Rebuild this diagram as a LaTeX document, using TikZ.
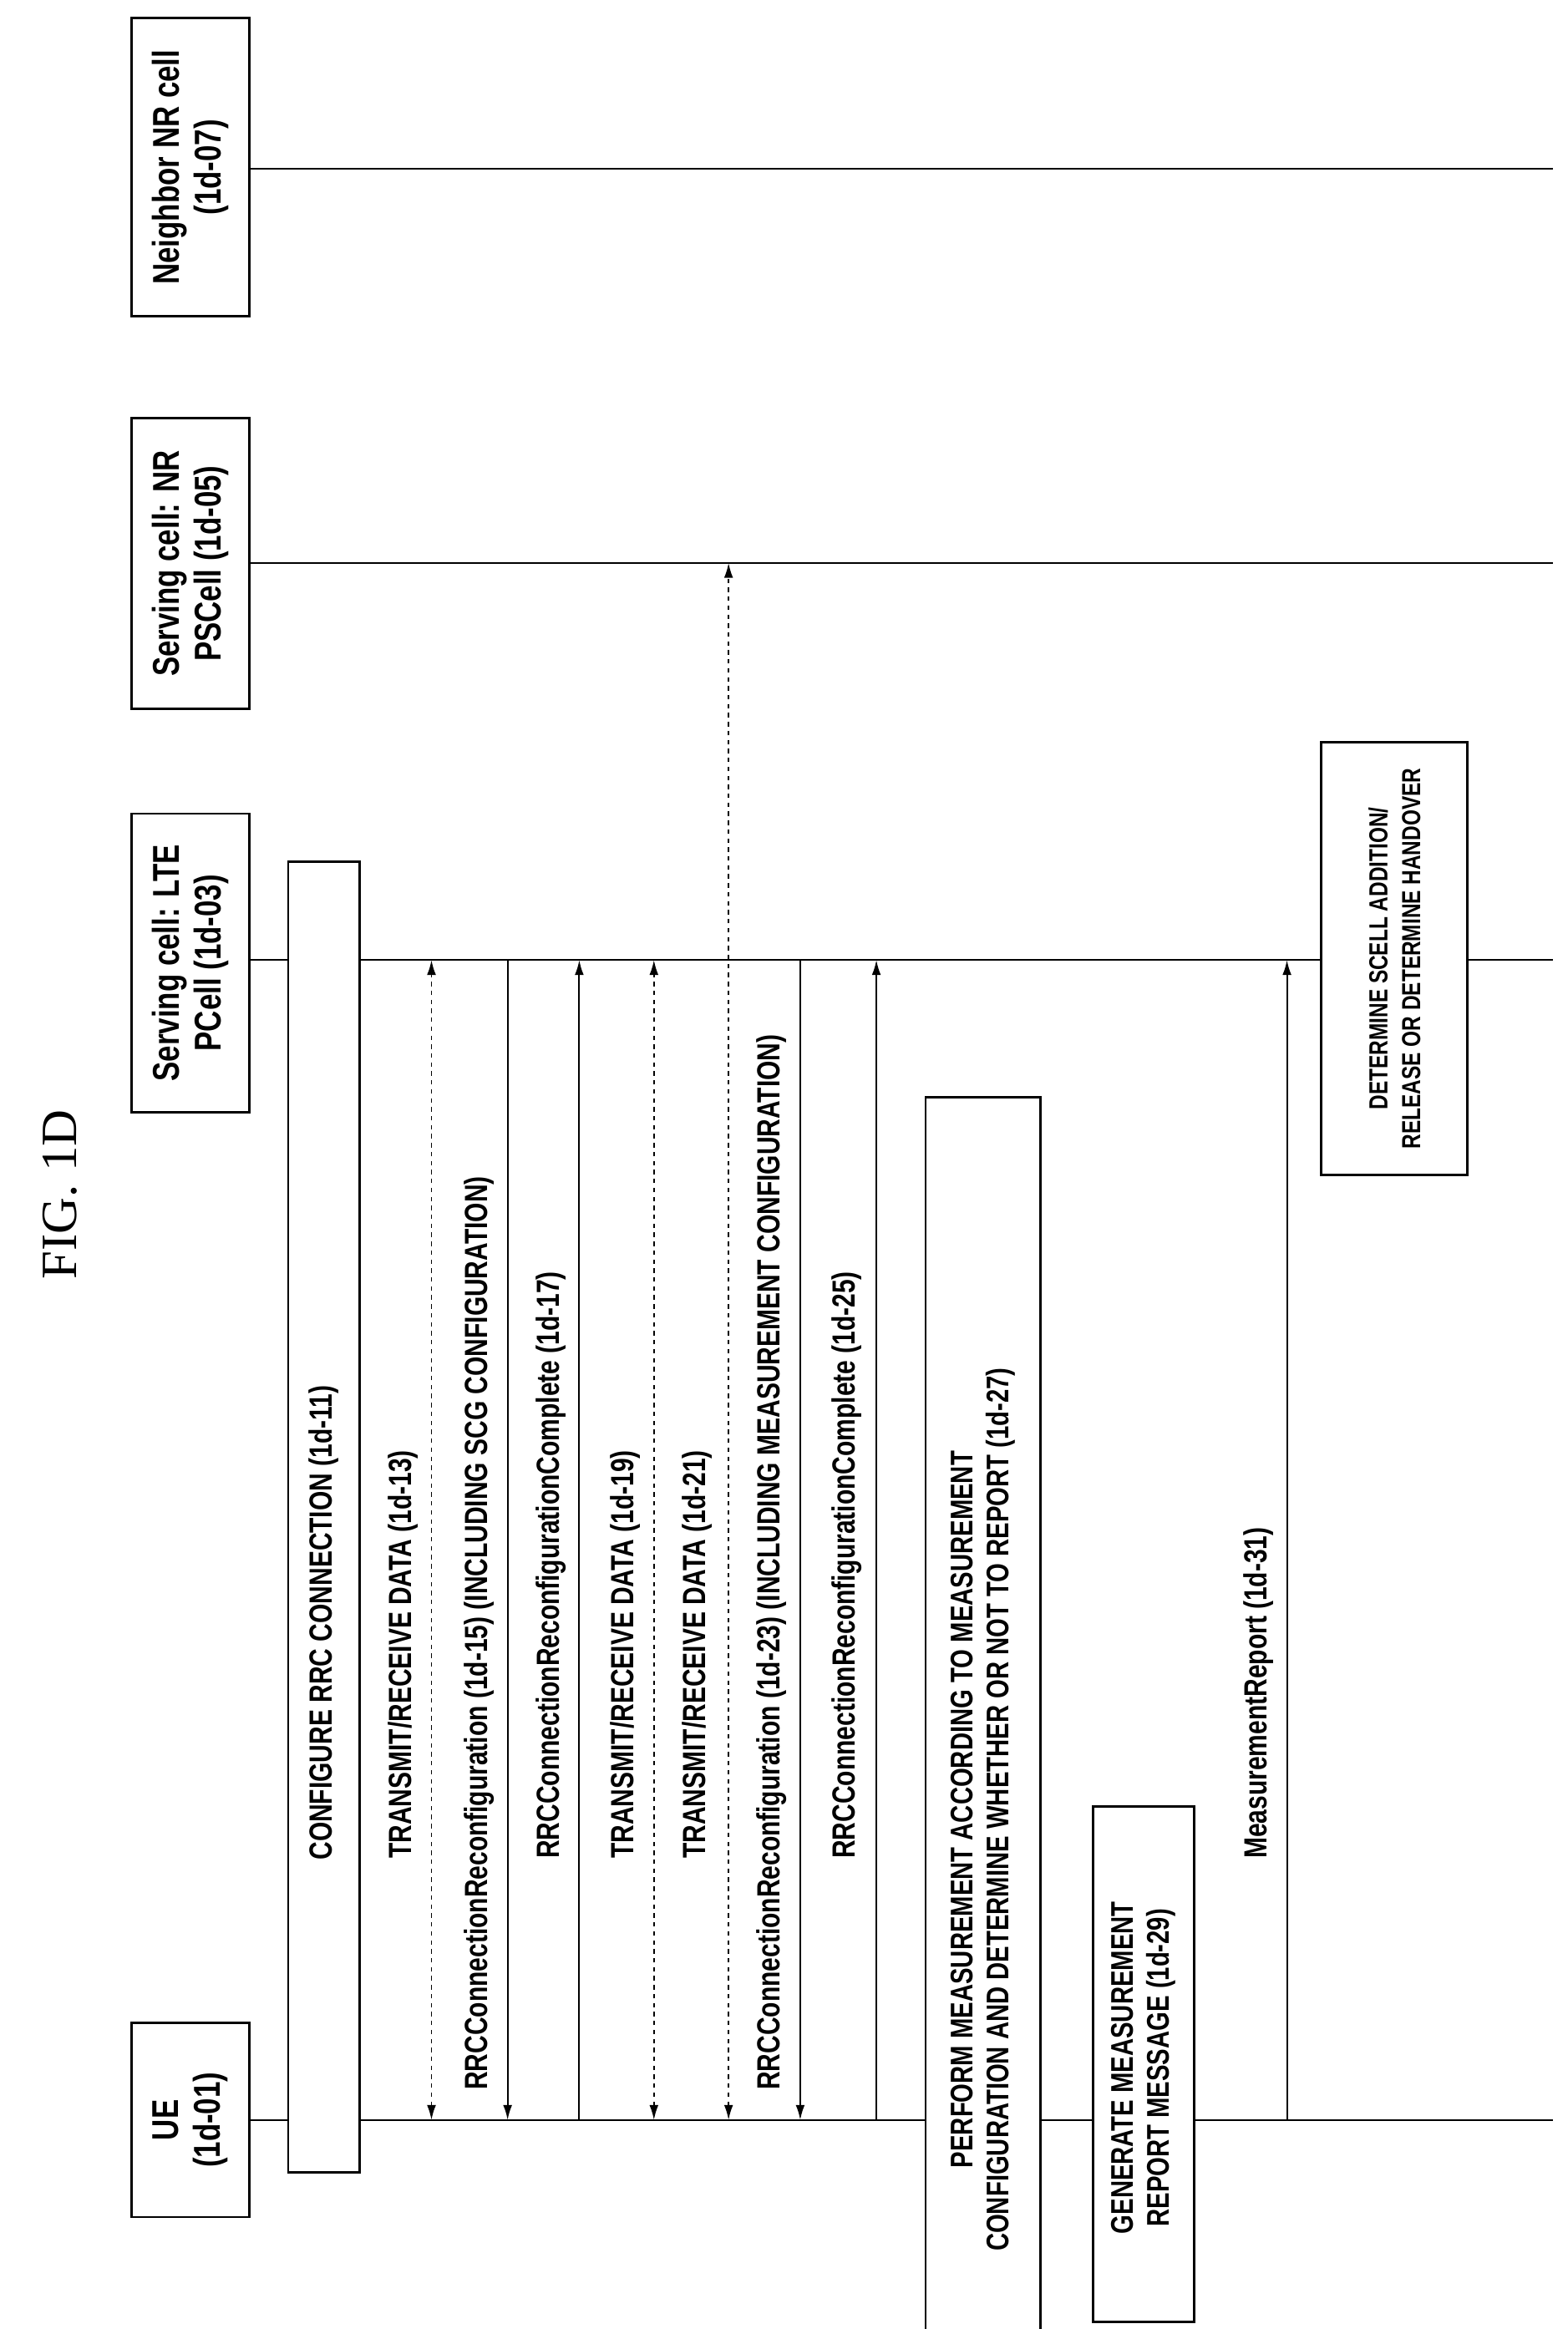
\documentclass[tikz,border=0pt]{standalone}
\usepackage{fontspec}
\setmainfont{Liberation Serif}
\newfontfamily\lab[FakeStretch=0.78]{Liberation Sans}
\begin{document}
\begin{tikzpicture}[x=1pt,y=-1pt,
  box/.style={draw,line width=1.6pt,fill=white},
  life/.style={line width=1.3pt},
  msg/.style={line width=1.1pt,-{Latex[length=10pt,width=6pt]}},
  dmsg/.style={line width=1.1pt,dashed,{Latex[length=10pt,width=6pt]}-{Latex[length=10pt,width=6pt]}},
  lbl/.style={rotate=90,anchor=west,font=\lab\bfseries\fontsize{21.5}{24}\selectfont,inner sep=0pt},
  btxt/.style={rotate=90,align=center,font=\lab\bfseries\fontsize{21}{24}\selectfont,inner sep=0pt},
  etxt/.style={btxt,font=\lab\bfseries\fontsize{25}{28}\selectfont}]
\usetikzlibrary{arrows.meta}
\useasboundingbox (0,0) rectangle (1050,1560);
\node[rotate=90,font=\fontsize{34}{40}\selectfont] (fig) at (40,800) {FIG.\ 1D};
% lifelines
\coordinate (uel) at (167,1420); \coordinate (uer) at (1040,1420);
\coordinate (ltel) at (167,643); \coordinate (lter) at (1040,643);
\coordinate (nrl) at (167,377); \coordinate (nrr) at (1040,377);
\coordinate (nbl) at (167,113); \coordinate (nbr) at (1040,113);
\draw[life] (uel)--(uer); \draw[life] (ltel)--(lter); \draw[life] (nrl)--(nrr); \draw[life] (nbl)--(nbr);
% entity boxes
\draw[box] (88,1355) rectangle (167,1485); \node[etxt] (ue) at (127.5,1420) {UE\\(1d-01)};
\draw[box] (88,545) rectangle (167,745); \node[etxt] (lte) at (127.5,645) {Serving cell: LTE\\PCell (1d-03)};
\draw[box] (88,280) rectangle (167,475); \node[etxt] (nr) at (127.5,377.5) {Serving cell: NR\\PSCell (1d-05)};
\draw[box] (88,12) rectangle (167,212); \node[etxt] (nb) at (127.5,112) {Neighbor NR cell\\(1d-07)};
% configure rrc
\draw[box] (193,577) rectangle (241,1455);
\node[lbl,anchor=center] (c11) at (217,1087) {CONFIGURE RRC CONNECTION (1d-11)};
% messages
\foreach \x/\a/\b/\s in {289/1420/643/dmsg, 340/643/1420/msg, 388/1420/643/msg, 438/1420/643/dmsg, 488/1420/377/dmsg, 536/643/1420/msg, 587/1420/643/msg, 862/1420/643/msg}
  {\coordinate (a\x) at (\x,\a); \coordinate (b\x) at (\x,\b); \draw[\s] (a\x)--(b\x);}
\node[lbl] at (270,1245) {TRANSMIT/RECEIVE DATA (1d-13)};
\node[lbl] at (321,1400) {RRCConnectionReconfiguration (1d-15) (INCLUDING SCG CONFIGURATION)};
\node[lbl] at (369,1245) {RRCConnectionReconfigurationComplete (1d-17)};
\node[lbl] at (419,1245) {TRANSMIT/RECEIVE DATA (1d-19)};
\node[lbl] at (467,1245) {TRANSMIT/RECEIVE DATA (1d-21)};
\node[lbl] at (517,1400) {RRCConnectionReconfiguration (1d-23) (INCLUDING MEASUREMENT CONFIGURATION)};
\node[lbl] at (567,1245) {RRCConnectionReconfigurationComplete (1d-25)};
\node[lbl] at (843,1245) {MeasurementReport (1d-31)};
% process boxes
\fill[white] (620,735) rectangle (697,1560);
\draw[line width=1.6pt] (620,1560) -- (620,735) -- (697,735) -- (697,1560);
\node[btxt] (p27) at (658.5,1212) {PERFORM MEASUREMENT ACCORDING TO MEASUREMENT\\CONFIGURATION AND DETERMINE WHETHER OR NOT TO REPORT (1d-27)};
\draw[box] (732,1210) rectangle (800,1555);
\node[btxt] (p29) at (766,1385) {GENERATE MEASUREMENT\\REPORT MESSAGE (1d-29)};
\draw[box] (885,497) rectangle (983,787);
\node[btxt,font=\lab\bfseries\fontsize{17.5}{22}\selectfont] (p33) at (934,642) {DETERMINE SCELL ADDITION/\\RELEASE OR DETERMINE HANDOVER};
\end{tikzpicture}
\end{document}
